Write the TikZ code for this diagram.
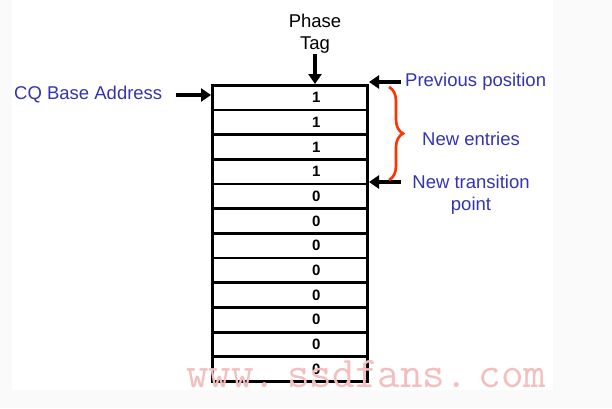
\documentclass[tikz,border=0pt]{standalone}
\usepackage{fontspec}
\setmainfont{Liberation Sans}
\usetikzlibrary{arrows.meta,decorations.pathreplacing}
\definecolor{lblblue}{RGB}{52,52,178}
\definecolor{bracered}{RGB}{255,51,0}
\definecolor{wmpink}{RGB}{245,190,190}
\definecolor{bggray}{RGB}{250,250,250}
\tikzset{
  blabel/.style={text=lblblue, font=\fontsize{18.5}{22}\selectfont, inner sep=0pt},
  klabel/.style={text=black, font=\fontsize{18.5}{22}\selectfont, inner sep=0pt, align=center},
  cell/.style={draw=black, line width=2.8pt, minimum width=155pt, minimum height=24.67pt, inner sep=0pt, anchor=north west, font=\bfseries\fontsize{15}{17}\selectfont},
  bigarrow/.style={line width=3.6pt, -{Triangle[length=10pt,width=13pt]}},
}
\begin{document}
\begin{tikzpicture}[x=1pt,y=-1pt]
\useasboundingbox (0,0) rectangle (612,408);
\fill[bggray] (0,0) rectangle (612,408);
\fill[white] (12,0) rectangle (553,390);
% cells
\foreach \v [count=\i from 0] in {1,1,1,1,0,0,0,0,0,0,0,0} {
  \node[cell] (c\i) at (211,84+\i*24.67) {\hspace*{53pt}\v};
}
% labels
\node[klabel] (phase) at (315,34) {Phase\\Tag};
\coordinate (ptop) at (315,54);
\draw[bigarrow] (ptop) -- (c0.north -| ptop);

\node[blabel, anchor=west] (cq) at (14,95) {CQ Base Address};
\coordinate (cqs) at (176,95);
\draw[bigarrow] (cqs) -- (c0.west |- cqs);

\node[blabel, anchor=west] (prev) at (405,82) {Previous position};
\coordinate (ps) at (401,82);
\draw[bigarrow] (ps) -- (369,82);

\node[blabel] (newe) at (471,139) {New entries};
\node[blabel, align=center, anchor=north] (newt) at (471,175) {New transition\\point};
\coordinate (ns) at (401,182);
\draw[bigarrow] (ns) -- (369,182);

\draw[bracered, line width=2.6pt, decorate, decoration={brace, amplitude=14pt, aspect=0.5}] (389,87) -- (389,180);

% watermark
\node[text=wmpink, font=\fontspec{Latin Modern Mono}\fontsize{43.8}{43.8}\selectfont, inner sep=0pt, anchor=base west] (wm) at (186,387) {www.\hspace{11pt}ssdfans.\hspace{11pt}com};
\end{tikzpicture}
\end{document}
